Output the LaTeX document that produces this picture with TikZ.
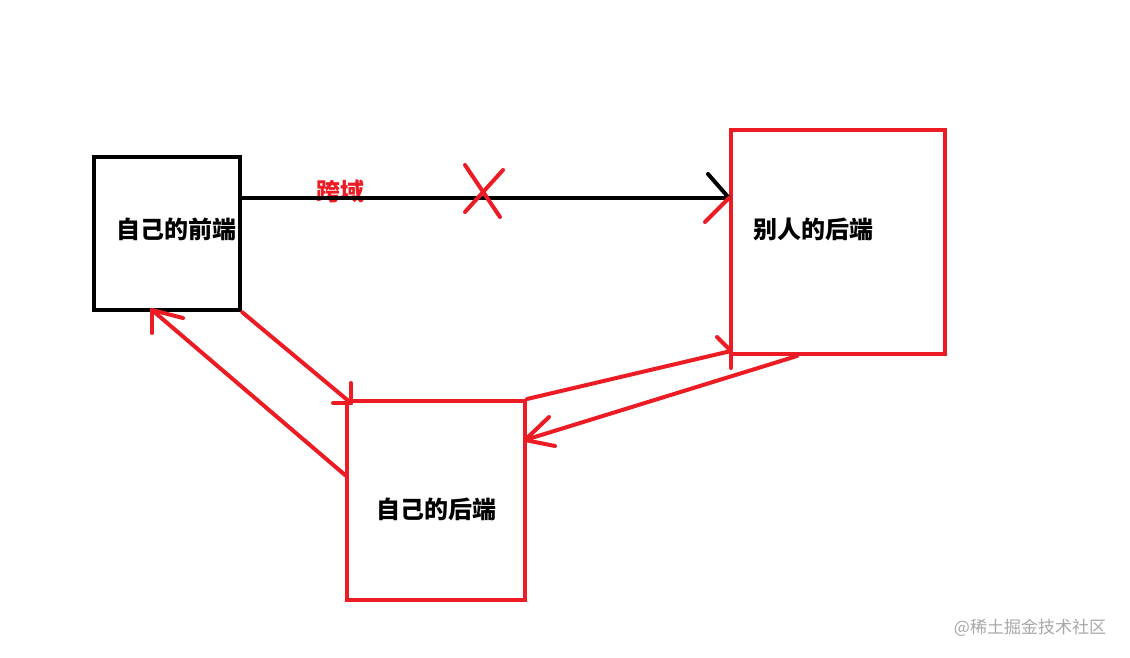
\documentclass[tikz,border=0pt]{standalone}
\usepackage{fontspec}
\newfontfamily\cjk{Noto Sans CJK SC}
\definecolor{pred}{HTML}{ED1C24}
\definecolor{wm}{HTML}{A8A8A8}
\tikzset{
  bbox/.style={draw=black, line width=4.5pt, inner sep=0pt, fill=none},
  rbox/.style={draw=pred, line width=4pt, inner sep=0pt, fill=none},
  lbl/.style={font=\cjk\bfseries\fontsize{24}{26}\selectfont, inner sep=0pt},
  rl/.style={draw=pred, line width=4pt, line cap=round},
  bl/.style={draw=black, line width=4pt, line cap=round},
}
\begin{document}
\begin{tikzpicture}[x=1pt,y=-1pt]
\useasboundingbox[fill=white] (0,0) rectangle (1130,657);
% boxes
\node[bbox, minimum width=146pt, minimum height=153pt] (fe) at (167,233.5) {};
\node[rbox, minimum width=214pt, minimum height=224pt] (ob) at (838,242) {};
\node[rbox, minimum width=178pt, minimum height=199pt] (mb) at (436,500.5) {};
% texts
\node[lbl] (tfe) at (176,229) {自己的前端};
\node[lbl] (tob) at (813,229) {别人的后端};
\node[lbl] (tmb) at (436,509) {自己的后端};
\node[lbl, text=pred] (kuayu) at (340,191) {跨域};
% blocked request
\coordinate (a1) at (0,198);
\draw[bl] (fe.east |- a1) -- (ob.west |- a1);
\draw[bl] (ob.west |- a1) -- ++(-21,-24);
\draw[rl] (ob.west |- a1) -- ++(-24,24);
% X mark
\draw[rl] (465,165) -- (500,217);
\draw[rl] (503,170) -- (465,212);
% front -> my backend
\coordinate (t1) at (351,403);
\draw[rl] (fe.south east) -- (t1);
\draw[rl] (t1) -- ++(0,-20);
\draw[rl] (t1) -- ++(-18,0);
% my backend -> front
\coordinate (t2) at (152,310);
\draw[rl] (mb.west |- 0,475) -- (t2);
\draw[rl] (t2) -- ++(0,23);
\draw[rl] (t2) -- ++(31,8);
% my backend -> other backend
\coordinate (t3) at (731,351);
\draw[rl] (mb.north east) -- (t3);
\draw[rl] (t3) -- ++(-14,-14);
\draw[rl] (t3) -- ++(0,17);
% other backend -> my backend
\coordinate (t4) at (525,440);
\draw[rl] (ob.south -| 797,0) -- (t4);
\draw[rl] (t4) -- ++(24,-23);
\draw[rl] (t4) -- ++(30,6);
% watermark
\node[font=\cjk\fontsize{17}{19}\selectfont, text=wm, inner sep=0pt] (wmk) at (1030,628) {@稀土掘金技术社区};
\end{tikzpicture}
\end{document}
